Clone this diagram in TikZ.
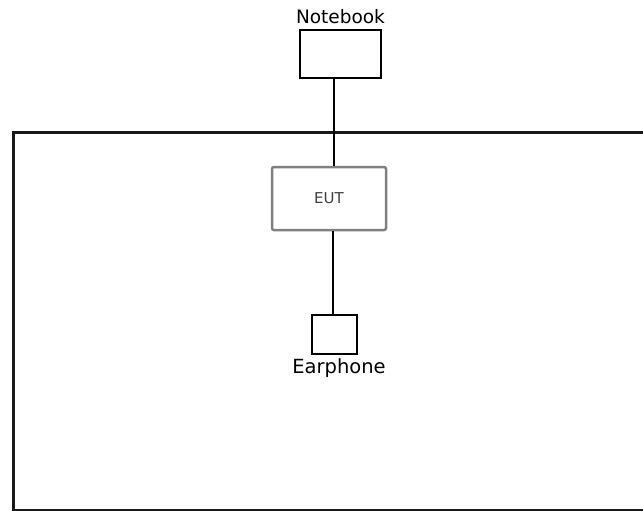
\documentclass[tikz,border=0pt]{standalone}
\usepackage{fontspec}
\setmainfont{DejaVu Sans}
\begin{document}
\begin{tikzpicture}[x=1pt,y=-1pt,
  box/.style={draw=black,line width=1.8pt,fill=white,inner sep=0pt,minimum width=#1},
  lbl/.style={font=\fontsize{18.5}{20}\selectfont,inner sep=0pt},
  wire/.style={draw=black,line width=1.6pt}]
\useasboundingbox (0,0) rectangle (643,511);
\fill[white] (0,0) rectangle (643,511);
% big enclosure
\draw[line width=3pt,black!90] (660,132) -- (13,132) -- (13,510) -- (660,510);
% nodes
\node[box=81pt,minimum height=48pt] (nb) at (340.5,54) {};
\node[lbl] (nbl) at (340.5,17) {Notebook};
\node[draw=black!50,line width=2.5pt,rounded corners=2pt,fill=white,minimum width=114pt,minimum height=63pt,inner sep=0pt,font=\fontsize{15}{17}\selectfont,text=black!75] (eut) at (329,198.5) {EUT};
\node[box=45pt,minimum height=39pt] (ep) at (334.5,334.5) {};
\node[lbl,font=\fontsize{19.5}{21}\selectfont] (epl) at (339,368) {Earphone};
% connectors
\draw[wire] (nb.south) ++(-6.5,0) coordinate (a) -- (a |- eut.north);
\draw[wire] (eut.south -| ep.north) ++(-1.5,0) coordinate (b) -- (b |- ep.north);
\end{tikzpicture}
\end{document}
